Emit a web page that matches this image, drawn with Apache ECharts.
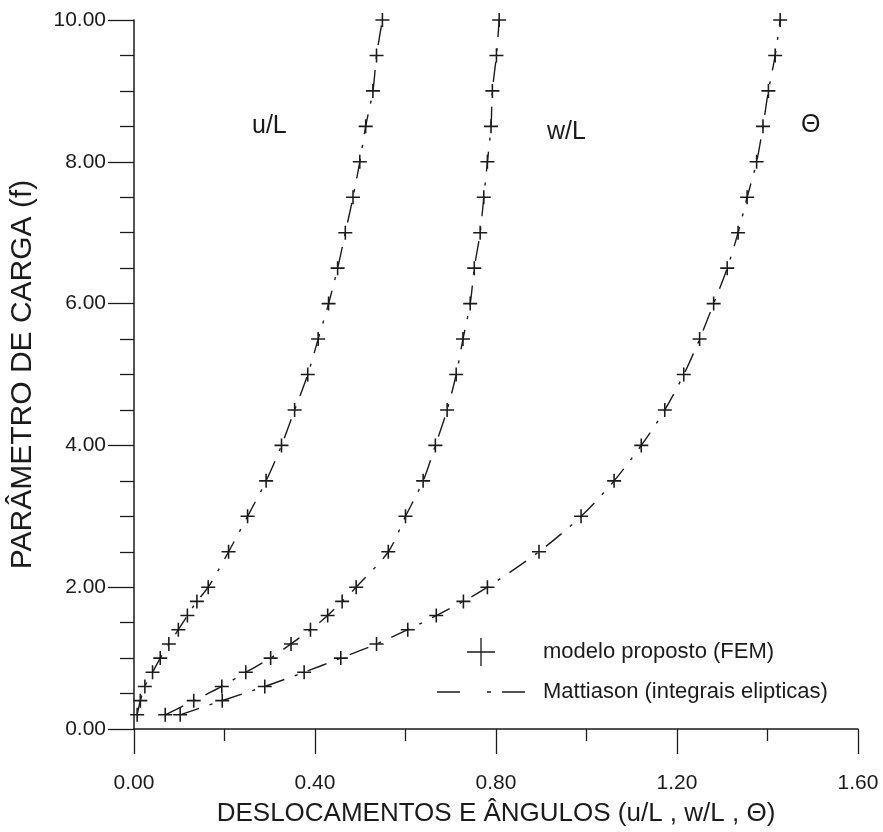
<!DOCTYPE html>
<html>
<head>
<meta charset="utf-8">
<script src="https://cdn.jsdelivr.net/npm/echarts@6/dist/echarts.min.js"></script>
<style>
html,body{margin:0;padding:0;background:#fff;}
#chart{width:883px;height:832px;}
</style>
</head>
<body>
<div id="chart"></div>
<script>
// Load parameter f (y values)
var loads = [0.2,0.4,0.6,0.8,1.0,1.2,1.4,1.6,1.8,2.0,2.5,3.0,3.5,4.0,4.5,5.0,5.5,6.0,6.5,7.0,7.5,8.0,8.5,9.0,9.5,10.0];
// Displacements / angle (x values)
var uL    = [0.007,0.014,0.024,0.041,0.058,0.077,0.098,0.118,0.139,0.164,0.209,0.251,0.292,0.326,0.355,0.384,0.407,0.430,0.450,0.467,0.484,0.499,0.512,0.528,0.536,0.549];
var wL    = [0.069,0.132,0.194,0.247,0.302,0.347,0.390,0.428,0.460,0.491,0.562,0.600,0.639,0.666,0.692,0.712,0.727,0.743,0.752,0.765,0.773,0.781,0.789,0.792,0.801,0.807];
var theta = [0.102,0.195,0.289,0.376,0.457,0.536,0.605,0.668,0.728,0.781,0.895,0.988,1.061,1.121,1.173,1.215,1.250,1.281,1.311,1.335,1.355,1.376,1.390,1.402,1.417,1.428];

var curveNames = ['u/L', 'w/L', 'Θ'];
var seriesFEM = 'modelo proposto (FEM)';
var seriesRef = 'Mattiason (integrais elipticas)';
var xTitle = 'DESLOCAMENTOS E ÂNGULOS (u/L , w/L , Θ)';
var yTitle = 'PARÂMETRO DE CARGA (f)';

function pairs(xs){ return xs.map(function(x,i){ return [x, loads[i]]; }); }

var FONT = '"Liberation Sans", Arial, sans-serif';
var INK = '#1b1b1b';
var plusPath = 'path://M7.1,0H8.9V7.1H16V8.9H8.9V16H7.1V8.9H0V7.1H7.1Z';
var plusLegend = 'path://M14.3,0H15.7V14.3H30V15.7H15.7V30H14.3V15.7H0V14.3H14.3Z';
var dashLegend = 'path://M0,0H23V1.6H0Z M50,0H54V1.6H50Z M65,0H88V1.6H65Z';
var dash = [20, 11, 3, 11];

var allX = [uL, wL, theta];
var series = [];
allX.forEach(function(xs){
  series.push({
    name: seriesRef, type: 'line', data: pairs(xs), smooth: 0.3,
    showSymbol: false, symbol: 'none', silent: true,
    lineStyle: {color: INK, width: 1.4, type: dash}, z: 2
  });
});
allX.forEach(function(xs){
  series.push({
    name: seriesFEM, type: 'scatter', data: pairs(xs),
    symbol: plusPath, symbolSize: 14,
    itemStyle: {color: INK, opacity: 1}, z: 3
  });
});

var chart = echarts.init(document.getElementById('chart'), null, {renderer: 'canvas'});
chart.setOption({
  backgroundColor: '#fff',
  animation: false,
  grid: {left: 132, right: 25, top: 20, bottom: 95, containLabel: false},
  xAxis: {
    type: 'value', min: 0, max: 1.6, interval: 0.4,
    name: xTitle, nameLocation: 'middle', nameGap: 72,
    nameTextStyle: {fontFamily: FONT, fontSize: 26, color: INK},
    axisLine: {show: true, onZero: false, lineStyle: {color: INK, width: 1.5}},
    axisTick: {show: true, inside: false, length: 25, lineStyle: {color: INK, width: 1.3}},
    minorTick: {show: true, splitNumber: 2, length: 12, lineStyle: {color: INK, width: 1.3}},
    axisLabel: {margin: 44, fontFamily: FONT, fontSize: 21, color: INK,
      formatter: function(v){ return v.toFixed(2); }},
    splitLine: {show: false}
  },
  yAxis: {
    type: 'value', min: 0, max: 10, interval: 2,
    name: yTitle, nameLocation: 'middle', nameGap: 96, nameRotate: 90,
    nameTextStyle: {fontFamily: FONT, fontSize: 30, color: INK},
    axisLine: {show: true, onZero: false, lineStyle: {color: INK, width: 1.5}},
    axisTick: {show: true, inside: false, length: 26, lineStyle: {color: INK, width: 1.3}},
    minorTick: {show: true, splitNumber: 4, length: 14, lineStyle: {color: INK, width: 1.3}},
    axisLabel: {margin: 28, fontFamily: FONT, fontSize: 21, color: INK,
      formatter: function(v){ return v.toFixed(2); }},
    splitLine: {show: false}
  },
  legend: {
    orient: 'vertical', left: 432, top: 633,
    itemWidth: 88, itemHeight: 28, itemGap: 15,
    selectedMode: false,
    textStyle: {fontFamily: FONT, fontSize: 22, color: INK, padding: [0,0,0,13]},
    data: [
      {name: seriesFEM, icon: plusLegend, itemStyle: {color: INK}},
      {name: seriesRef, icon: dashLegend, itemStyle: {color: INK}}
    ]
  },
  graphic: [
    {type: 'text', left: 252, top: 114, style: {text: curveNames[0], font: '25px ' + FONT, fill: INK}},
    {type: 'text', left: 547, top: 120, style: {text: curveNames[1], font: '25px ' + FONT, fill: INK}},
    {type: 'text', left: 801, top: 113, style: {text: curveNames[2], font: '25px ' + FONT, fill: INK}}
  ],
  series: series
});
</script>
</body>
</html>
